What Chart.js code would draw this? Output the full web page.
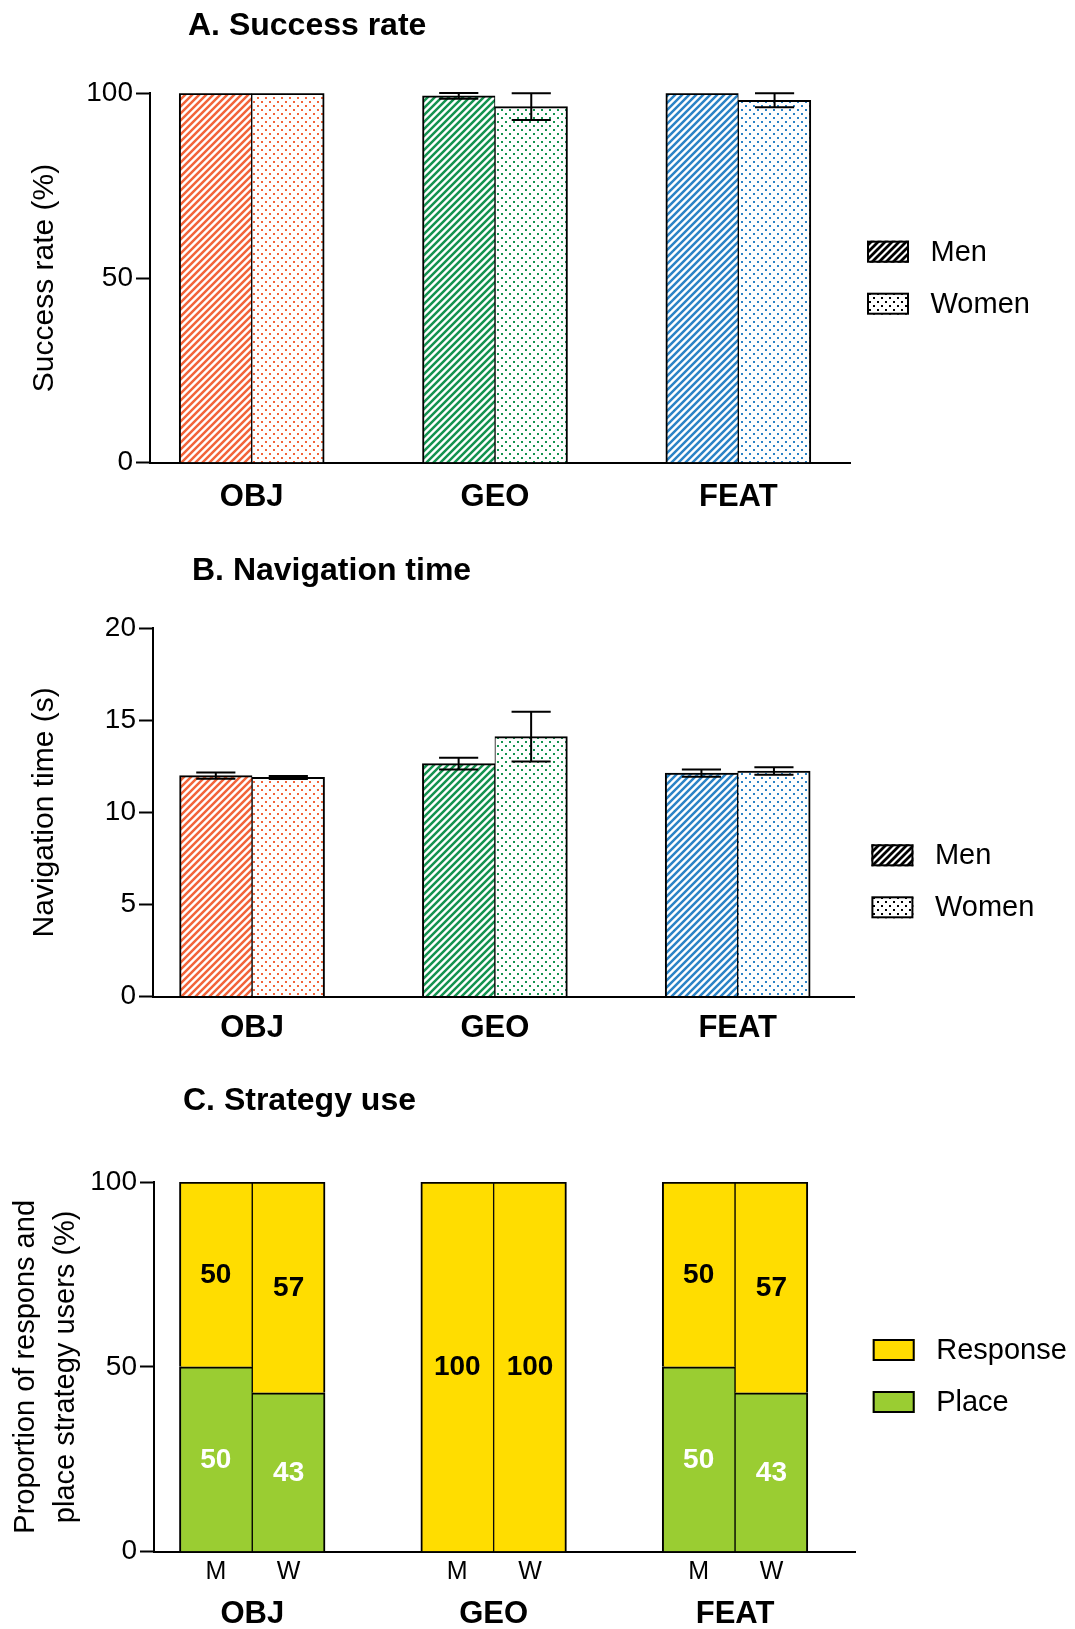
<!DOCTYPE html>
<html>
<head>
<meta charset="utf-8">
<script src="https://cdn.jsdelivr.net/npm/chart.js@4.4.1/dist/chart.umd.min.js"></script>
<style>
  html, body { margin: 0; padding: 0; background: #fff; }
  #page { position: relative; width: 1075px; height: 1629px; overflow: hidden; }
  #page canvas { position: absolute; left: 0; }
</style>
</head>
<body>
<div id="page">
  <canvas id="panelA" width="1075" height="520" style="top:0px"></canvas>
  <canvas id="panelB" width="1075" height="520" style="top:520px"></canvas>
  <canvas id="panelC" width="1075" height="589" style="top:1040px"></canvas>
</div>
<script>
// ---- data ----
const categories = ['OBJ', 'GEO', 'FEAT'];
const groupLetters = ['M', 'W'];

// A. Success rate (%), mean and error
const successMen = [100, 99.3, 100];
const successMenErr = [0, 0.8, 0];
const successWomen = [100, 96.4, 98.1];
const successWomenErr = [0, 3.6, 1.9];
const successTicks = [0, 50, 100];

// B. Navigation time (s), mean and error
const timeMen = [12.0, 12.65, 12.13];
const timeMenErr = [0.17, 0.32, 0.2];
const timeWomen = [11.9, 14.12, 12.25];
const timeWomenErr = [0.08, 1.35, 0.2];
const timeTicks = [0, 5, 10, 15, 20];

// C. Strategy use (%)
const placeMen = [50, 0, 50];
const responseMen = [50, 100, 50];
const placeWomen = [43, 0, 43];
const responseWomen = [57, 100, 57];
const strategyTicks = [0, 50, 100];

// ---- styling ----
const FONT = "'Liberation Sans', Arial, Helvetica, sans-serif";
Chart.defaults.font.family = FONT;
Chart.defaults.color = '#000';

const taskColors = ['#F2643A', '#14924F', '#2B83C6'];
const responseColor = '#FFDD00';
const placeColor = '#9ACD32';

function makeTile(size, paint) {
  const c = document.createElement('canvas');
  c.width = size; c.height = size;
  const g = c.getContext('2d');
  g.fillStyle = '#fff';
  g.fillRect(0, 0, size, size);
  paint(g, size);
  return g.createPattern(c, 'repeat');
}
function hatch(color, lw) {
  return makeTile(7, (g, s) => {
    g.strokeStyle = color;
    g.lineWidth = lw;
    g.beginPath();
    g.moveTo(-2, s + 2); g.lineTo(s + 2, -2);
    g.moveTo(-2, 2); g.lineTo(2, -2);
    g.moveTo(s - 2, s + 2); g.lineTo(s + 2, s - 2);
    g.stroke();
  });
}
function dots(color) {
  return makeTile(8, (g) => {
    g.fillStyle = color;
    g.fillRect(1, 1, 2, 2);
    g.fillRect(5, 5, 2, 2);
  });
}

const menFills = taskColors.map(c => hatch(c, 2.5));
const womenFills = taskColors.map(c => dots(c));

const toPoints = arr => arr.map((v, i) => ({ x: i, y: v }));

// ---- plugins ----
const panelTitle = {
  id: 'panelTitle',
  afterDraw(chart, args, o) {
    if (!o.text) return;
    const ctx = chart.ctx;
    ctx.save();
    ctx.font = 'bold 32px ' + FONT;
    ctx.fillStyle = '#000';
    ctx.textAlign = 'left';
    ctx.textBaseline = 'alphabetic';
    ctx.fillText(o.text, o.x, o.y);
    ctx.restore();
  }
};

const errorBars = {
  id: 'errorBars',
  afterDatasetsDraw(chart, args, o) {
    const ctx = chart.ctx;
    const yScale = chart.scales.y;
    chart.data.datasets.forEach((ds, di) => {
      if (!ds.errors) return;
      const meta = chart.getDatasetMeta(di);
      meta.data.forEach((bar, i) => {
        const e = ds.errors[i];
        if (!e) return;
        const v = ds.data[i].y;
        const yHi = yScale.getPixelForValue(v + e);
        const yLo = yScale.getPixelForValue(v - e);
        const half = bar.width * (o.capRatio || 0.54) / 2;
        ctx.save();
        ctx.strokeStyle = '#000';
        ctx.lineWidth = 2;
        ctx.beginPath();
        ctx.moveTo(bar.x, yHi); ctx.lineTo(bar.x, yLo);
        ctx.moveTo(bar.x - half, yHi); ctx.lineTo(bar.x + half, yHi);
        ctx.moveTo(bar.x - half, yLo); ctx.lineTo(bar.x + half, yLo);
        ctx.stroke();
        ctx.restore();
      });
    });
  }
};

const segmentValues = {
  id: 'segmentValues',
  afterDatasetsDraw(chart) {
    const ctx = chart.ctx;
    chart.data.datasets.forEach((ds, di) => {
      if (!ds.valueColor) return;
      const meta = chart.getDatasetMeta(di);
      meta.data.forEach((bar, i) => {
        const v = ds.data[i].y;
        if (!v) return;
        ctx.save();
        ctx.font = 'bold 28px ' + FONT;
        ctx.fillStyle = ds.valueColor;
        ctx.textAlign = 'center';
        ctx.textBaseline = 'middle';
        ctx.fillText(String(v), bar.x, (bar.y + bar.base) / 2 + 1);
        ctx.restore();
      });
    });
  }
};

const barLetters = {
  id: 'barLetters',
  afterDraw(chart, args, o) {
    const ctx = chart.ctx;
    chart.data.datasets.forEach((ds, di) => {
      if (!ds.letter) return;
      const meta = chart.getDatasetMeta(di);
      meta.data.forEach(bar => {
        ctx.save();
        ctx.font = '25px ' + FONT;
        ctx.fillStyle = '#000';
        ctx.textAlign = 'center';
        ctx.textBaseline = 'middle';
        ctx.fillText(ds.letter, bar.x, chart.chartArea.bottom + o.offset);
        ctx.restore();
      });
    });
  }
};

const sideLegend = {
  id: 'sideLegend',
  afterDraw(chart, args, o) {
    if (!o.items) return;
    const ctx = chart.ctx;
    const x0 = chart.chartArea.right + o.dx;
    o.items.forEach((it, k) => {
      const top = chart.chartArea.top + o.dy + k * o.rowGap;
      ctx.save();
      ctx.fillStyle = it.fill;
      ctx.fillRect(x0, top, 42, 22);
      ctx.strokeStyle = '#000';
      ctx.lineWidth = 2;
      ctx.strokeRect(x0 + 1, top + 1, 40, 20);
      ctx.font = '29px ' + FONT;
      ctx.fillStyle = '#000';
      ctx.textAlign = 'left';
      ctx.textBaseline = 'middle';
      ctx.fillText(it.text, x0 + 63.5, top + 12);
      ctx.restore();
    });
  }
};

Chart.register(panelTitle, errorBars, segmentValues, barLetters, sideLegend);

// ---- shared axis builders ----
function xAxis(min, max, height, labelPad) {
  return {
    type: 'linear',
    min: min, max: max,
    offset: false,
    grid: { display: false, drawTicks: false },
    border: { display: true, color: '#000', width: 2 },
    afterBuildTicks: s => { s.ticks = categories.map((_, i) => ({ value: i })); },
    afterFit: s => { s.height = height; },
    ticks: {
      autoSkip: false, maxRotation: 0, padding: labelPad,
      font: { size: 31, weight: 'bold', lineHeight: 1.2 },
      color: '#000',
      callback: v => categories[v]
    }
  };
}
function yAxis(ticks, width, title, titleFont, titlePad, stacked) {
  return {
    type: 'linear',
    min: ticks[0], max: ticks[ticks.length - 1],
    stacked: !!stacked,
    afterBuildTicks: s => { s.ticks = ticks.map(v => ({ value: v })); },
    afterFit: s => { s.width = width; },
    grid: { display: true, drawOnChartArea: false, drawTicks: true, tickLength: 14, tickWidth: 2, tickColor: '#000', color: '#000' },
    border: { display: true, color: '#000', width: 2 },
    ticks: { font: { size: 28 }, color: '#000', padding: 3 },
    title: { display: true, text: title, color: '#000', font: titleFont, padding: { top: titlePad, bottom: 0 } }
  };
}

const menBorder = { top: 2, left: 2, right: 1, bottom: 0 };
const womenBorder = { top: 2, left: 1, right: 2, bottom: 0 };

function pairedOptions(o) {
  return {
    responsive: false,
    animation: false,
    events: [],
    layout: { padding: { top: o.top, right: o.right, bottom: 0, left: 0 } },
    plugins: {
      legend: { display: false },
      title: { display: false },
      tooltip: { enabled: false },
      panelTitle: o.title,
      errorBars: { capRatio: 0.54 },
      sideLegend: {
        dx: o.legendDx, dy: o.legendDy, rowGap: 52,
        items: [
          { text: 'Men', fill: hatch('#000', 2.8) },
          { text: 'Women', fill: dots('#000') }
        ]
      }
    },
    scales: {
      x: xAxis(o.xMin, o.xMax, o.xHeight, o.labelPad),
      y: yAxis(o.ticks, o.yWidth, o.yTitle, { size: 30, lineHeight: 1.2 }, 26.7)
    }
  };
}

// ---- A. Success rate ----
new Chart(document.getElementById('panelA'), {
  type: 'bar',
  data: {
    datasets: [
      { label: 'Men', data: toPoints(successMen), errors: successMenErr,
        backgroundColor: menFills, borderColor: '#000', borderWidth: menBorder, barThickness: 72.5 },
      { label: 'Women', data: toPoints(successWomen), errors: successWomenErr,
        backgroundColor: womenFills, borderColor: '#000', borderWidth: womenBorder, barThickness: 72.5 }
    ]
  },
  options: pairedOptions({
    top: 93.3, right: 225, xMin: -0.418, xMax: 2.459, xHeight: 57.3, labelPad: 16,
    yWidth: 150, ticks: successTicks, yTitle: 'Success rate (%)',
    title: { text: 'A. Success rate', x: 188, y: 35 },
    legendDx: 17, legendDy: 147.4
  })
});

// ---- B. Navigation time ----
new Chart(document.getElementById('panelB'), {
  type: 'bar',
  data: {
    datasets: [
      { label: 'Men', data: toPoints(timeMen), errors: timeMenErr,
        backgroundColor: menFills, borderColor: '#000', borderWidth: menBorder, barThickness: 72.5 },
      { label: 'Women', data: toPoints(timeWomen), errors: timeWomenErr,
        backgroundColor: womenFills, borderColor: '#000', borderWidth: womenBorder, barThickness: 72.5 }
    ]
  },
  options: pairedOptions({
    top: 108.3, right: 221, xMin: -0.408, xMax: 2.479, xHeight: 43.5, labelPad: 13.5,
    yWidth: 153, ticks: timeTicks, yTitle: 'Navigation time (s)',
    title: { text: 'B. Navigation time', x: 192, y: 60 },
    legendDx: 17.4, legendDy: 216
  })
});

// ---- C. Strategy use ----
new Chart(document.getElementById('panelC'), {
  type: 'bar',
  data: {
    datasets: [
      { label: 'Place', stack: 'M', letter: groupLetters[0], data: toPoints(placeMen), valueColor: '#fff',
        backgroundColor: placeColor, borderColor: '#000', borderWidth: menBorder, barThickness: 72.8 },
      { label: 'Response', stack: 'M', data: toPoints(responseMen), valueColor: '#000',
        backgroundColor: responseColor, borderColor: '#000', borderWidth: menBorder, barThickness: 72.8 },
      { label: 'Place', stack: 'W', letter: groupLetters[1], data: toPoints(placeWomen), valueColor: '#fff',
        backgroundColor: placeColor, borderColor: '#000', borderWidth: womenBorder, barThickness: 72.8 },
      { label: 'Response', stack: 'W', data: toPoints(responseWomen), valueColor: '#000',
        backgroundColor: responseColor, borderColor: '#000', borderWidth: womenBorder, barThickness: 72.8 }
    ]
  },
  options: {
    responsive: false,
    animation: false,
    events: [],
    layout: { padding: { top: 142, right: 220, bottom: 0, left: 0 } },
    plugins: {
      legend: { display: false },
      title: { display: false },
      tooltip: { enabled: false },
      panelTitle: { text: 'C. Strategy use', x: 183, y: 70 },
      barLetters: { offset: 20 },
      sideLegend: {
        dx: 17.7, dy: 157, rowGap: 52,
        items: [
          { text: 'Response', fill: responseColor },
          { text: 'Place', fill: placeColor }
        ]
      }
    },
    scales: {
      x: Object.assign(xAxis(-0.407, 2.497, 77.3, 44), { stacked: true }),
      y: yAxis(strategyTicks, 154, ['Proportion of respons and', 'place strategy users (%)'],
               { size: 29, lineHeight: 1.36 }, 6.5, true)
    }
  }
});
</script>
</body>
</html>
